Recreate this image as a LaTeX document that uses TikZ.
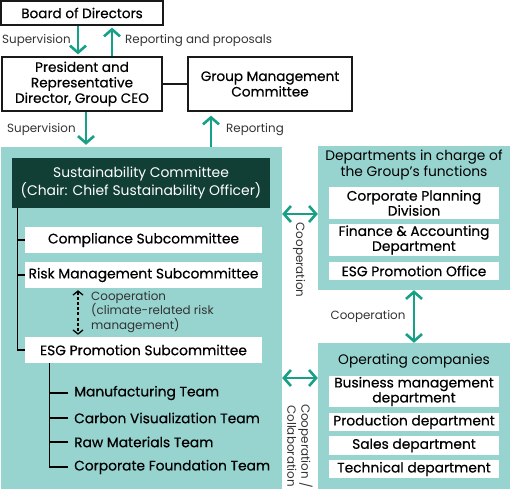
\documentclass[tikz,border=0pt]{standalone}
\usepackage{fontspec}
\setmainfont{Poppins}
\newfontfamily\medf[FakeBold=0.5]{Poppins}
\usetikzlibrary{arrows.meta,calc}
\definecolor{arrowc}{HTML}{16A086}
\definecolor{panelc}{HTML}{97D3CF}
\definecolor{darkc}{HTML}{123F35}
\definecolor{labc}{HTML}{333333}
\begin{document}
\begin{tikzpicture}[x=1pt,y=-1pt,
  wbox/.style={draw=black!90, line width=1.3pt, fill=white, inner sep=0pt, align=center,
    font=\medf\fontsize{13.6}{15.5}\selectfont},
  panel/.style={fill=panelc, draw=none, inner sep=0pt},
  sbox/.style={fill=white, draw=none, inner sep=0pt, align=center, minimum width=170,
    font=\medf\fontsize{13.8}{15}\selectfont},
  lbox/.style={fill=white, draw=none, inner sep=0pt, align=center, minimum width=237, minimum height=26,
    font=\medf\fontsize{13.8}{15}\selectfont},
  team/.style={anchor=west, inner sep=0pt, font=\medf\fontsize{13.8}{15}\selectfont},
  lab/.style={inner sep=0pt, text=labc, font=\fontsize{11.9}{14.5}\selectfont},
  arr/.style={draw=arrowc, line width=2.6pt, -{Straight Barb[length=7pt,width=16pt]}},
  darr/.style={draw=arrowc, line width=2.6pt, {Straight Barb[length=7pt,width=16pt]}-{Straight Barb[length=7pt,width=16pt]}},
  tree/.style={draw=black, line width=1.3pt},
]
\useasboundingbox (0,0) rectangle (510,489);
% top boxes
\node[wbox, minimum width=162, minimum height=24] (board) at (82,13) {Board of Directors};
\node[wbox, minimum width=160, minimum height=54] (pres) at (82,84) {President and\\Representative\\Director, Group CEO};
\node[wbox, minimum width=164, minimum height=54] (gmc) at (270,84) {Group Management\\Committee};
\draw[line width=1.3pt, black!90] (pres.east) -- (gmc.west);
\draw[arr, shorten >=2pt] ([xshift=-4]board.south) -- ([xshift=-4]pres.north);
\draw[arr, shorten >=2pt] ([xshift=30]pres.north) -- ([xshift=30]board.south);
\node[lab, anchor=west] (l1) at (2,41) {Supervision};
\node[lab, anchor=west] (l2) at (125,41) {Reporting and proposals};
% left panel
\node[panel, minimum width=281, minimum height=342] (lp) at (141.5,318) {};
\draw[arr, shorten >=2pt] ([xshift=4]pres.south) -- ([xshift=4]pres.south |- lp.north);
\draw[arr, shorten >=4pt] ([xshift=-59]gmc.south |- lp.north) -- ([xshift=-59]gmc.south);
\node[lab, anchor=west] (l3) at (7,130) {Supervision};
\node[lab, anchor=west] (l4) at (226,130) {Reporting};
\node[fill=darkc, inner sep=0pt, minimum width=258, minimum height=50, align=center, text=white,
  font=\fontsize{13.9}{16}\selectfont] (dark) at (141,183) {Sustainability Committee\\(Chair: Chief Sustainability Officer)};
\node[lbox] (comp) at (143.5,240) {Compliance Subcommittee};
\node[lbox] (risk) at (143.5,275) {Risk Management Subcommittee};
\node[lbox] (esg) at (143.5,350) {ESG Promotion Subcommittee};
\draw[tree] ([xshift=6]dark.south west) |- (esg.west);
\draw[tree] (comp.west) -- ++(-7,0);
\draw[tree] (risk.west) -- ++(-7,0);
\draw[black, line width=1.3pt, dash pattern=on 3pt off 2.2pt, shorten <=2pt, shorten >=2pt,
  {Straight Barb[length=4pt,width=10pt]}-{Straight Barb[length=4pt,width=10pt]}]
  ([xshift=-65.5]risk.south) -- ([xshift=-65.5]esg.north);
\node[lab, anchor=north west, align=left] (l5) at (91,291) {Cooperation\\(climate-related risk\\management)};
\node[team] (t1) at (74,393) {Manufacturing Team};
\node[team] (t2) at (74,418) {Carbon Visualization Team};
\node[team] (t3) at (74,442) {Raw Materials Team};
\node[team] (t4) at (74,467) {Corporate Foundation Team};
\coordinate (tt) at ([xshift=25]esg.south west);
\draw[tree] (tt) |- ([xshift=-6]t4.west);
\foreach \t in {t1,t2,t3} \draw[tree] ([xshift=-6]\t.west) -- ++(-18,0);
% right panels
\node[panel, minimum width=192, minimum height=144] (dp) at (414,218) {};
\node[panel, minimum width=192, minimum height=146] (op) at (414,416) {};
\node[inner sep=0pt, align=center, font=\fontsize{13.8}{16}\selectfont] (dpt) at (414,165) {Departments in charge of\\the Group’s functions};
\node[inner sep=0pt, font=\fontsize{13.8}{16}\selectfont] (opt) at (414,361) {Operating companies};
\node[sbox, minimum height=32] (cpd) at (414,203) {Corporate Planning\\Division};
\node[sbox, minimum height=32] (fad) at (414,240) {Finance \& Accounting\\Department};
\node[sbox, minimum height=18] (epo) at (414,271) {ESG Promotion Office};
\node[sbox, minimum height=31] (bmd) at (414,391.5) {Business management\\department};
\node[sbox, minimum height=18] (prd) at (414,422) {Production department};
\node[sbox, minimum height=19] (sld) at (414,445.5) {Sales department};
\node[sbox, minimum height=18] (tcd) at (414,469) {Technical department};
\draw[darr] ([yshift=4]dp.west -| lp.east) -- ([yshift=4]dp.west);
\draw[darr] (dp.south) -- (op.north);
\draw[darr] ([yshift=38]op.west -| lp.east) -- ([yshift=38]op.west);
\node[lab, rotate=-90] (l6) at (299,260) {Cooperation};
\node[lab] (l7) at (368,317) {Cooperation};
\node[lab, rotate=-90, align=center, font=\fontsize{11.9}{14}\selectfont] (l8) at (300,446) {Cooperation /\\Collaboration};
\end{tikzpicture}
\end{document}
